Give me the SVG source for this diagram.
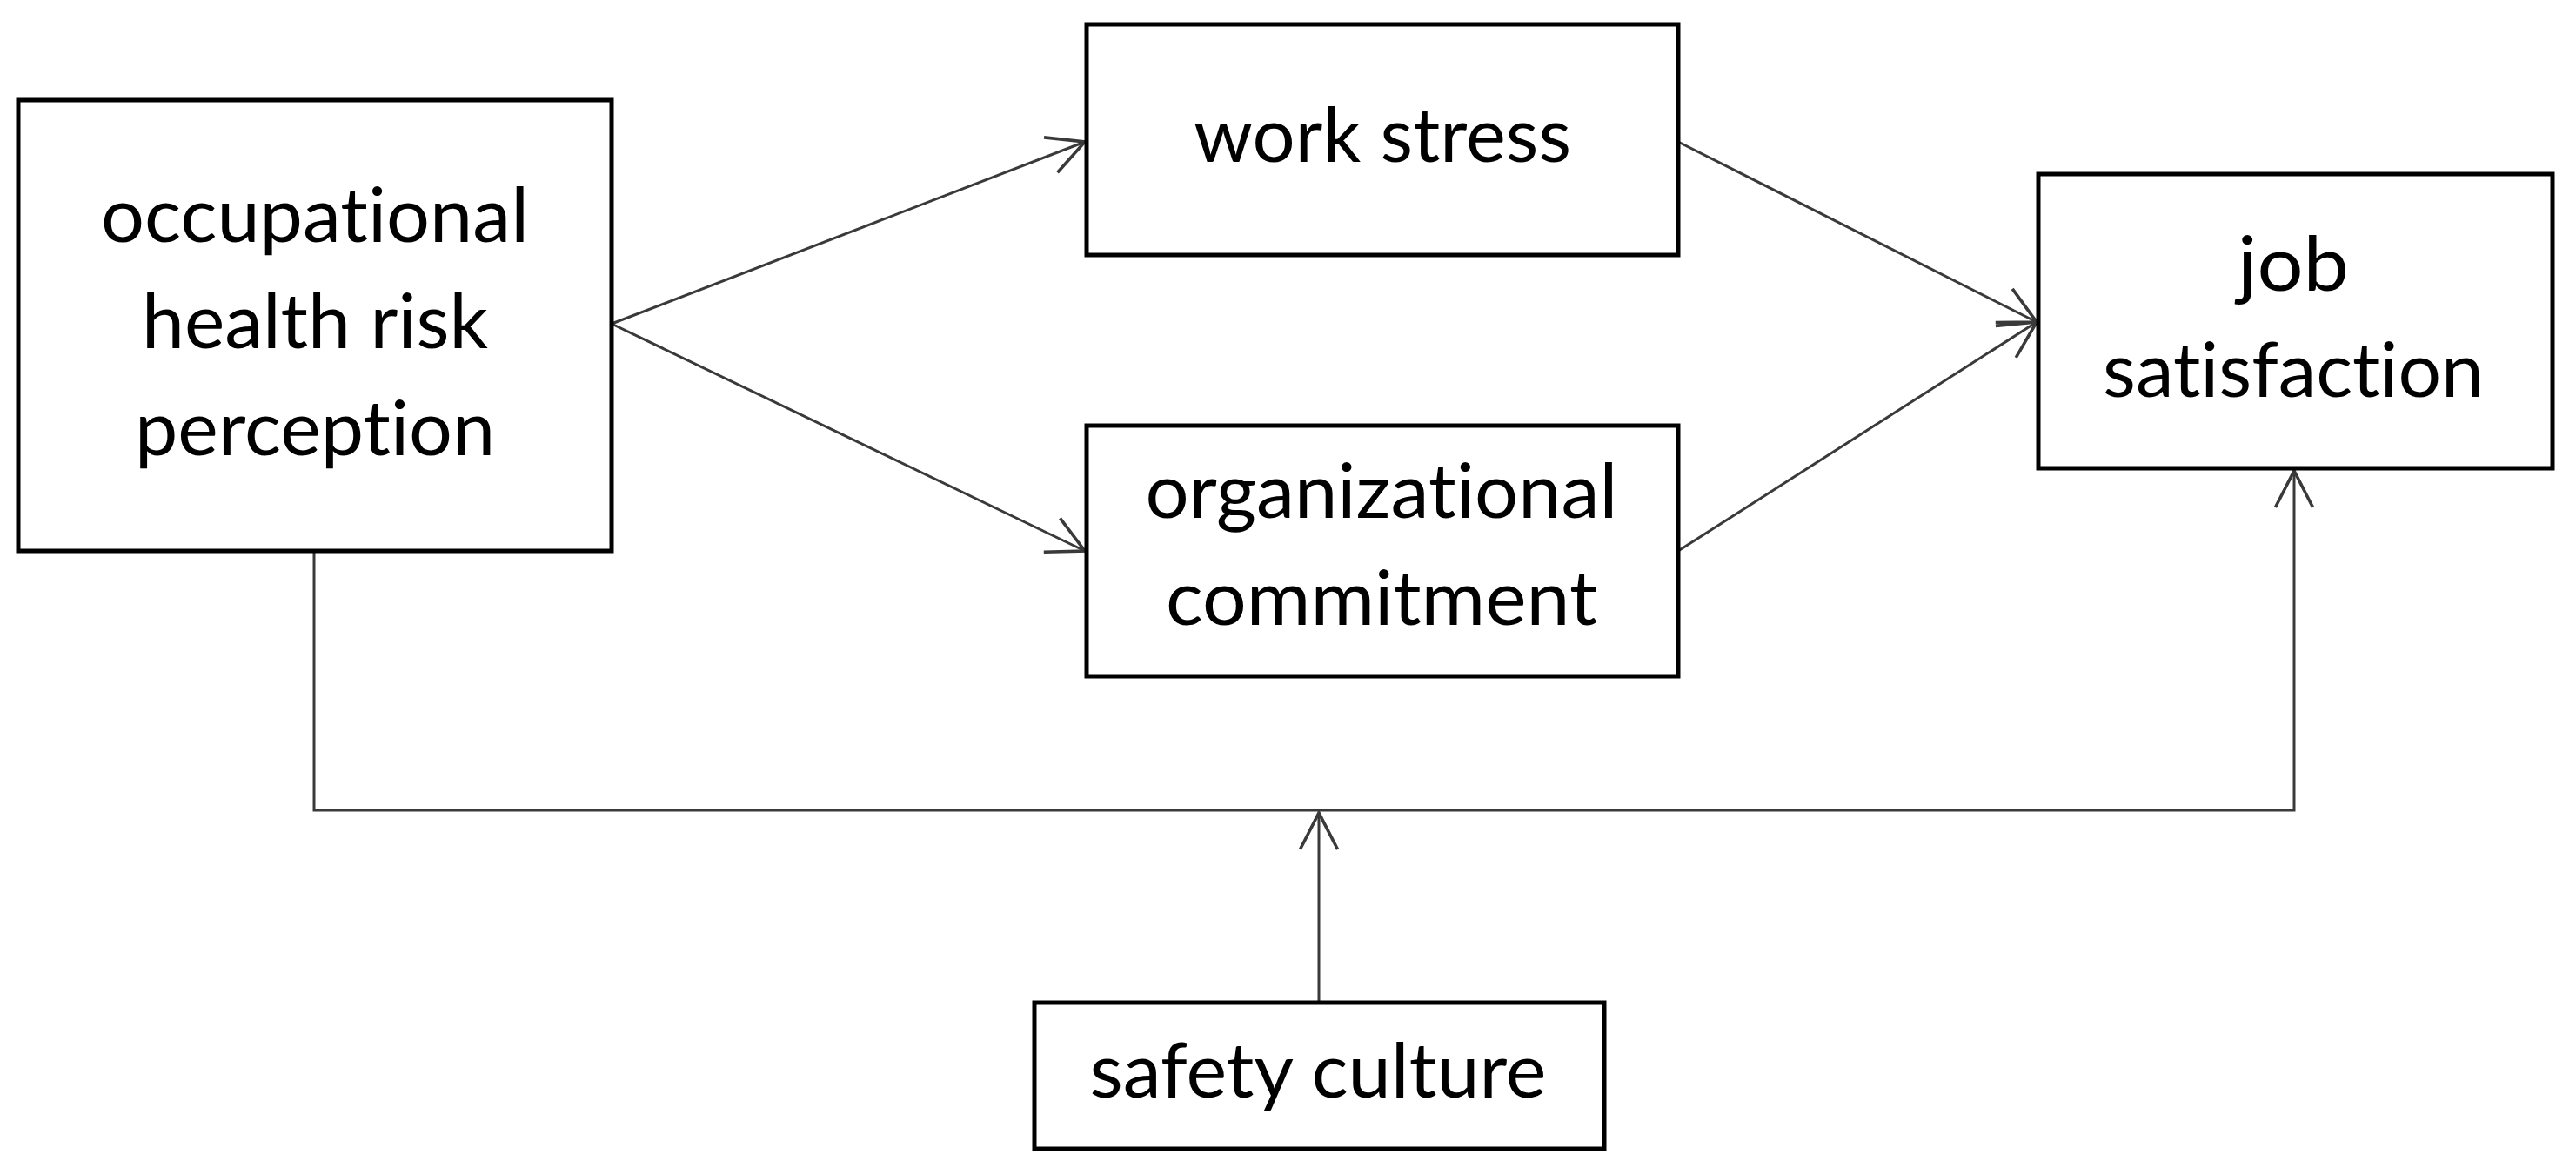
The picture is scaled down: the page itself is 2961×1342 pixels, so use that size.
<svg xmlns="http://www.w3.org/2000/svg" width="2961" height="1342" viewBox="0 0 2961 1342">
  <style>
    .box { fill: #ffffff; stroke: #000000; stroke-width: 5; }
    .lbl { font-family: Lato, "Open Sans", "Liberation Sans", sans-serif; font-size: 88px; fill: #000000; text-anchor: middle; font-variant-ligatures: none; font-feature-settings: "liga" 0, "dlig" 0; }
    .conn { fill: none; stroke: #3a3a3a; stroke-width: 3; }
  </style>
  <defs>
    <marker id="arrow" markerUnits="userSpaceOnUse" markerWidth="60" markerHeight="60" viewBox="-40 -25 44 50" refX="0" refY="0" orient="auto">
      <path d="M -35 -18 L 0 0 L -35 18" fill="none" stroke="#3a3a3a" stroke-width="3"/>
    </marker>
  </defs>
  <rect x="0" y="0" width="2961" height="1342" fill="#ffffff"/>

  <g id="connectors">
    <line class="conn" x1="703" y1="372" x2="1247" y2="163" marker-end="url(#arrow)"/>
    <line class="conn" x1="703" y1="372" x2="1247" y2="633" marker-end="url(#arrow)"/>
    <line class="conn" x1="1929" y1="163" x2="2341" y2="370" marker-end="url(#arrow)"/>
    <line class="conn" x1="1929" y1="633" x2="2341" y2="370" marker-end="url(#arrow)"/>
    <polyline class="conn" points="361,633 361,931 2637,931 2637,541" marker-end="url(#arrow)"/>
    <line class="conn" x1="1516" y1="1152" x2="1516" y2="934" marker-end="url(#arrow)"/>
  </g>

  <g id="node-ohrp">
    <rect class="box" x="21" y="115" width="682" height="518"/>
    <text class="lbl" x="362" y="278" textLength="492" lengthAdjust="spacingAndGlyphs">occupational</text>
    <text class="lbl" x="362" y="400" textLength="398" lengthAdjust="spacingAndGlyphs">health risk</text>
    <text class="lbl" x="362" y="523" textLength="414" lengthAdjust="spacingAndGlyphs">perception</text>
  </g>

  <g id="node-work-stress">
    <rect class="box" x="1249" y="28" width="680" height="265"/>
    <text class="lbl" x="1589" y="186" textLength="434" lengthAdjust="spacingAndGlyphs">work stress</text>
  </g>

  <g id="node-org-commitment">
    <rect class="box" x="1249" y="489" width="680" height="288"/>
    <text class="lbl" x="1588" y="595" textLength="543" lengthAdjust="spacingAndGlyphs">organizational</text>
    <text class="lbl" x="1588" y="718" textLength="496" lengthAdjust="spacingAndGlyphs">commitment</text>
  </g>

  <g id="node-job-satisfaction">
    <rect class="box" x="2343" y="200" width="591" height="338"/>
    <text class="lbl" x="2636" y="334" textLength="128" lengthAdjust="spacingAndGlyphs">job</text>
    <text class="lbl" x="2636" y="456" textLength="438" lengthAdjust="spacingAndGlyphs">satisfaction</text>
  </g>

  <g id="node-safety-culture">
    <rect class="box" x="1189" y="1152" width="655" height="168"/>
    <text class="lbl" x="1515" y="1261" textLength="525" lengthAdjust="spacingAndGlyphs">safety culture</text>
  </g>
</svg>
